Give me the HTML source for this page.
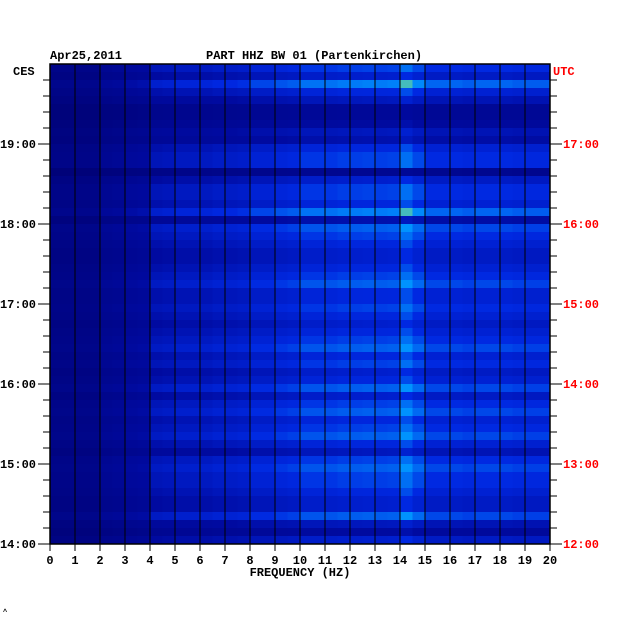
<!DOCTYPE html>
<html><head><meta charset="utf-8"><style>
body{margin:0;background:#fff;width:630px;height:624px;overflow:hidden}
svg{display:block;font-family:"Liberation Mono",monospace;font-weight:bold}
</style></head><body>
<svg id="c" width="630" height="624">
<text x="50" y="59" font-size="12">Apr25,2011</text>
<text x="206" y="59" font-size="12">PART HHZ BW 01 (Partenkirchen)</text>
<text x="13" y="75" font-size="12">CES</text>
<text x="553" y="75" font-size="12" fill="#f00">UTC</text>
<text x="300" y="576" font-size="12" text-anchor="middle">FREQUENCY (HZ)</text>
<text x="3" y="614" font-size="7">^</text>
<g id="cells"></g>
<g id="axes"></g>
</svg>
<script>
const rowLevels=[0.6,0.5,0.7,0.55,0.45,0.3,0.3,0.35,0.45,0.4,0.55,0.6,0.6,0.25,0.5,0.6,0.6,0.55,0.7,0.4,0.65,0.6,0.55,0.5,0.5,0.55,0.6,0.65,0.55,0.55,0.6,0.55,0.5,0.55,0.6,0.65,0.55,0.6,0.5,0.55,0.65,0.5,0.6,0.65,0.55,0.6,0.65,0.55,0.45,0.6,0.65,0.6,0.6,0.55,0.5,0.5,0.65,0.45,0.35,0.5];
const freqLevels=[0.3,0.3,0.3,0.3,0.42,0.45,0.52,0.55,0.7,0.72,0.75,0.75,0.75,0.78,0.78,0.8,0.85,0.85,0.88,0.9,0.95,0.95,0.95,0.97,0.97,0.98,0.97,0.98,1.1,1.0,0.92,0.92,0.92,0.9,0.92,0.92,0.92,0.9,0.9,0.9];
const xTicks=[0,1,2,3,4,5,6,7,8,9,10,11,12,13,14,15,16,17,18,19,20];
const leftHours=["14:00","15:00","16:00","17:00","18:00","19:00"];
const rightHours=["12:00","13:00","14:00","15:00","16:00","17:00"];
const X0=50,X1=550,Y0=64,Y1=544;
const xs=f=>X0+(f/20)*(X1-X0);
const ys=h=>Y1-(h/6)*(Y1-Y0);
const NS="http://www.w3.org/2000/svg";
function col(v){
  const stops=[[0,[0,0,110]],[0.35,[0,10,160]],[0.55,[0,40,225]],[0.72,[0,150,255]],[0.86,[190,255,70]],[0.95,[255,200,0]],[1,[230,20,0]]];
  v=Math.max(0,Math.min(1,v));
  for(let i=1;i<stops.length;i++){if(v<=stops[i][0]){const a=stops[i-1],b=stops[i],t=(v-a[0])/(b[0]-a[0]);
   return `rgb(${a[1].map((c,k)=>Math.round(c+(b[1][k]-c)*t)).join(',')})`;}}
  return 'rgb(230,20,0)';
}
const cells=document.getElementById('cells');
const rh=(Y1-Y0)/rowLevels.length,cw=(X1-X0)/freqLevels.length;
rowLevels.forEach((r,i)=>{freqLevels.forEach((f,j)=>{
  const el=document.createElementNS(NS,'rect');
  
  
  el.setAttribute('x',X0+j*cw);el.setAttribute('y',Y0+i*rh);
  el.setAttribute('width',cw+0.5);el.setAttribute('height',rh+0.5);
  el.setAttribute('fill',col(r*f));cells.appendChild(el);
});});
const ax=document.getElementById('axes');
function line(x1,y1,x2,y2,c,w,name){const l=document.createElementNS(NS,'line');
 
 
 l.setAttribute('x1',x1);l.setAttribute('y1',y1);l.setAttribute('x2',x2);l.setAttribute('y2',y2);
 l.setAttribute('stroke',c);l.setAttribute('stroke-width',w);ax.appendChild(l);}
function text(x,y,s,c,anchor,name){const t=document.createElementNS(NS,'text');
 
 
 t.setAttribute('x',x);t.setAttribute('y',y);t.setAttribute('font-size','12');t.setAttribute('fill',c);
 t.setAttribute('text-anchor',anchor);t.textContent=s;ax.appendChild(t);}
xTicks.forEach(f=>{
  if(f>0&&f<20)line(xs(f),Y0,xs(f),Y1,'#000',1,'grid-line');
  line(xs(f),Y1,xs(f),Y1+7,'#000',1,'x-tick');
  text(xs(f),Y1+20,String(f),'#000','middle','x-tick-label');
});
for(let k=0;k<30;k++){const y=Y1-k*16,major=k%5===0;
  line(X0-(major?12:7),y,X0,y,'#000',1,'left-tick');
  line(X1,y,X1+(major?12:7),y,'#000',1,'right-tick');}
leftHours.forEach((s,i)=>text(36,ys(i)+4,s,'#000','end','left-hour-label'));
rightHours.forEach((s,i)=>text(563,ys(i)+4,s,'#f00','start','right-hour-label'));
const fr=document.createElementNS(NS,'rect');


fr.setAttribute('x',X0);fr.setAttribute('y',Y0);fr.setAttribute('width',X1-X0);fr.setAttribute('height',Y1-Y0);
fr.setAttribute('fill','none');fr.setAttribute('stroke','#000');fr.setAttribute('stroke-width','1.5');ax.appendChild(fr);
</script>
</body></html>
